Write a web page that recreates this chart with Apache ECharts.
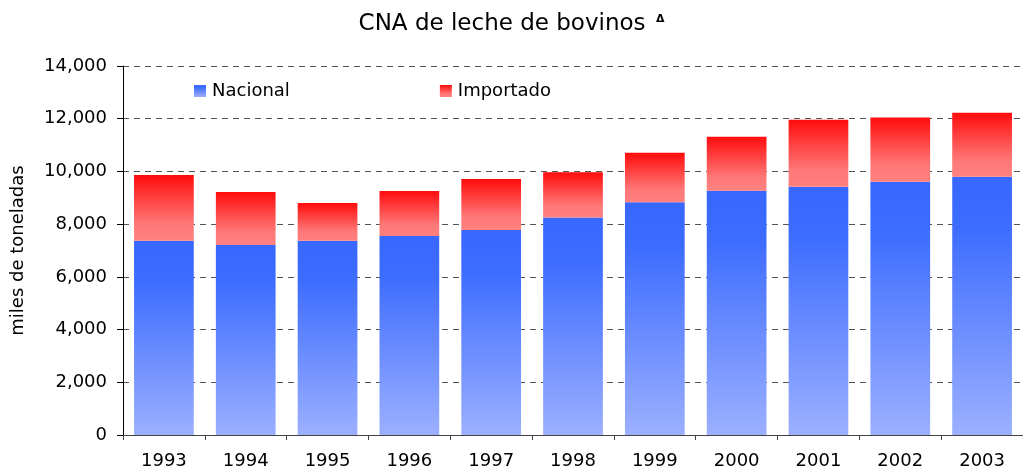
<!DOCTYPE html>
<html>
<head>
<meta charset="utf-8">
<script src="https://cdn.jsdelivr.net/npm/echarts@6/dist/echarts.min.js"></script>
<style>
html,body{margin:0;padding:0;background:#fff;}
#chart{width:1023px;height:472px;}
</style>
</head>
<body>
<div id="chart"></div>
<script>
const categories = ['1993','1994','1995','1996','1997','1998','1999','2000','2001','2002','2003'];
const nacional = [7370, 7210, 7370, 7550, 7780, 8250, 8830, 9270, 9420, 9610, 9800];
const importado = [2490, 2010, 1430, 1710, 1930, 1720, 1880, 2050, 2540, 2440, 2430];
const yTicks = [0, 2000, 4000, 6000, 8000, 10000, 12000, 14000];

const FONT = 'DejaVu Sans';
const chart = echarts.init(document.getElementById('chart'), null, {renderer: 'canvas'});

const blueGrad = new echarts.graphic.LinearGradient(0, 0, 0, 1, [
  {offset: 0, color: '#3767ff'},
  {offset: 0.2, color: '#3d6cff'},
  {offset: 1, color: '#9cb0ff'}
]);
const redGrad = new echarts.graphic.LinearGradient(0, 0, 0, 1, [
  {offset: 0, color: '#ff0c0c'},
  {offset: 0.75, color: '#ff7878'},
  {offset: 1, color: '#ff8080'}
]);

chart.setOption({
  animation: false,
  backgroundColor: '#fff',
  textStyle: {fontFamily: FONT},
  title: {
    text: '{a|CNA de leche de bovinos }{s|Δ}',
    left: 'center',
    top: 8,
    textStyle: {
      rich: {
        a: {fontFamily: FONT, fontSize: 23, color: '#000', fontWeight: 'normal'},
        s: {fontFamily: FONT, fontSize: 11, color: '#000', padding: [0, 0, 10, 3]}
      }
    }
  },
  legend: {
    left: 194,
    top: 82,
    padding: 0,
    itemWidth: 12,
    itemHeight: 12,
    itemGap: 150,
    icon: 'rect',
    textStyle: {fontFamily: FONT, fontSize: 18, color: '#000', padding: [0, 0, 0, 1]},
    data: ['Nacional', 'Importado']
  },
  grid: {left: 123, top: 66, width: 908, height: 369, containLabel: false},
  xAxis: {
    type: 'category',
    data: categories,
    axisLine: {show: true, lineStyle: {color: '#444', width: 1}},
    axisTick: {show: true, length: 5, alignWithLabel: false, lineStyle: {color: '#444'}},
    axisLabel: {fontFamily: FONT, fontSize: 18, color: '#000', margin: 17, interval: 0},
    splitLine: {show: false}
  },
  yAxis: {
    type: 'value',
    min: yTicks[0],
    max: yTicks[yTicks.length - 1],
    interval: 2000,
    name: 'miles de toneladas',
    nameLocation: 'middle',
    nameGap: 96,
    nameRotate: 90,
    nameTextStyle: {fontFamily: FONT, fontSize: 18, color: '#000'},
    axisLine: {show: true, lineStyle: {color: '#000', width: 1}},
    axisTick: {show: true, length: 6, lineStyle: {color: '#000'}},
    axisLabel: {
      fontFamily: FONT, fontSize: 18, color: '#000', margin: 16,
      formatter: v => v.toLocaleString('en-US')
    },
    splitLine: {show: true, lineStyle: {color: '#555', width: 1, type: [6, 5]}}
  },
  series: [
    {
      name: 'Nacional',
      type: 'bar',
      stack: 'total',
      data: nacional,
      barCategoryGap: '27%',
      itemStyle: {color: blueGrad}
    },
    {
      name: 'Importado',
      type: 'bar',
      stack: 'total',
      data: importado,
      barCategoryGap: '27%',
      itemStyle: {color: redGrad}
    }
  ]
});
</script>
</body>
</html>
